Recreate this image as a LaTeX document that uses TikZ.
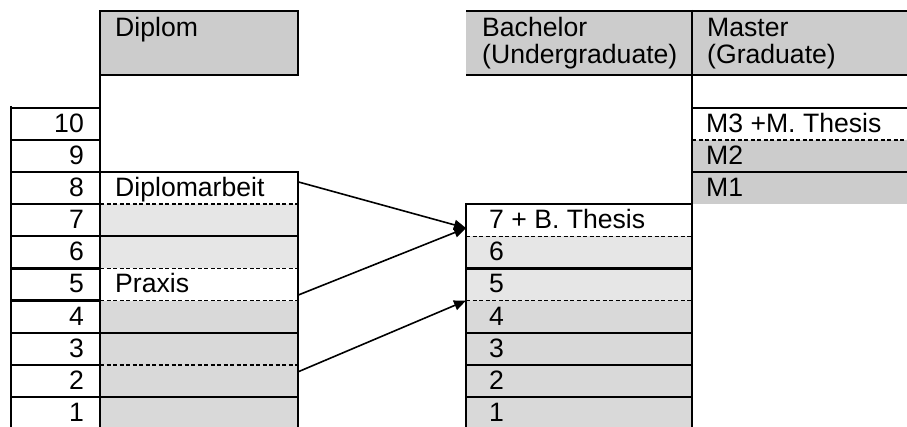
\documentclass[tikz,border=0pt]{standalone}
\usepackage{fontspec}
\setmainfont{Liberation Sans}
\usetikzlibrary{arrows.meta,calc}
\definecolor{hdr}{HTML}{CCCCCC}
\definecolor{lgt}{HTML}{E6E6E6}
\definecolor{drk}{HTML}{D9D9D9}
\begin{document}
\begin{tikzpicture}[x=1pt,y=-1pt,
  solidline/.style={line width=2.2pt},
  dashline/.style={line width=1.6pt, dash pattern=on 4pt off 2.5pt},
  txt/.style={inner sep=0pt, font=\fontsize{26.6}{30}\selectfont},
  num/.style={txt, anchor=base east},
  lbl/.style={txt, anchor=base west},
  cellbox/.style={anchor=north west, inner sep=0pt, outer sep=0pt, minimum height=32.1pt},
  dcell/.style={cellbox, minimum width=198pt},
  bcell/.style={cellbox, minimum width=226pt},
  mcell/.style={cellbox, minimum width=215pt},
  arr/.style={line width=1.6pt, -{Triangle[length=12pt,width=10pt]}}]
\useasboundingbox (0,0) rectangle (907,427);
\begin{scope}
\clip (0,0) rectangle (907,427);
% ---------- fills ----------
\node[cellbox, fill=hdr, minimum width=198pt, minimum height=64pt] (hdip) at (100,11) {};
\node[cellbox, fill=hdr, minimum width=226pt, minimum height=64pt] (hbac) at (466,11) {};
\node[cellbox, fill=hdr, minimum width=215pt, minimum height=64pt] (hmas) at (692,11) {};
% Diplom column
\node[dcell] (d8) at (100,172.2) {};
\node[dcell, fill=lgt] (d7) at (100,204.3) {};
\node[dcell, fill=lgt] (d6) at (100,236.4) {};
\node[dcell] (d5) at (100,268.5) {};
\node[dcell, fill=drk] (d4) at (100,300.6) {};
\node[dcell, fill=drk] (d3) at (100,332.7) {};
\node[dcell, fill=drk] (d2) at (100,364.8) {};
\node[dcell, fill=drk] (d1) at (100,396.9) {};
% Bachelor column
\node[bcell] (b7) at (466,204.3) {};
\node[bcell, fill=lgt] (b6) at (466,236.4) {};
\node[bcell, fill=lgt] (b5) at (466,268.5) {};
\node[bcell, fill=drk] (b4) at (466,300.6) {};
\node[bcell, fill=drk] (b3) at (466,332.7) {};
\node[bcell, fill=drk] (b2) at (466,364.8) {};
\node[bcell, fill=drk] (b1) at (466,396.9) {};
% Master column
\node[mcell] (m3) at (692,108) {};
\node[mcell, fill=hdr] (m2) at (692,140.1) {};
\node[mcell, fill=hdr] (m1) at (692,172.2) {};
% ---------- dashed lines ----------
\foreach \y in {204.3,268.5,300.6,364.8} \draw[dashline] (100,\y) -- (298,\y);
\foreach \y in {236.4,300.6} \draw[dashline] (466,\y) -- (692,\y);
\draw[dashline] (692,140.1) -- (907,140.1);
% ---------- solid lines ----------
% number column
\draw[solidline] (11,106) -- (11,430);
\foreach \y in {108,140.1,172.2,204.3,236.4,268.5,300.6,332.7,364.8,396.9}
  \draw[solidline] (10,\y) -- (100,\y);
% Diplom column
\draw[solidline] (100,11) rectangle (298,75);
\draw[solidline] (100,11) -- (100,430);
\draw[solidline] (298,171.1) -- (298,430);
\foreach \y in {172.2,236.4,332.7,396.9} \draw[solidline] (100,\y) -- (298,\y);
% Bachelor / Master
\draw[solidline] (466,11) -- (908,11);
\draw[solidline] (466,75) -- (908,75);
\draw[solidline] (692,9.9) -- (692,430);
\draw[solidline] (466,203.2) -- (466,430);
\foreach \y in {204.3,268.5,332.7,364.8,396.9} \draw[solidline] (466,\y) -- (692,\y);
\foreach \y in {108,172.2} \draw[solidline] (692,\y) -- (908,\y);
\end{scope}
% ---------- texts ----------
\node[lbl] (thd) at (115,36.5) {Diplom};
\node[lbl] (thb1) at (482,36.5) {Bachelor};
\node[lbl] (thb2) at (482,64) {(Undergraduate)};
\node[lbl] (thm1) at (707,36.5) {Master};
\node[lbl] (thm2) at (707,64) {(Graduate)};
\foreach \n/\y in {10/108,9/140.1,8/172.2,7/204.3,6/236.4,5/268.5,4/300.6,3/332.7,2/364.8,1/396.9}
  \node[num] (n\n) at (84,\y+24.5) {\n};
\node[lbl] (tdip) at (115,172.2+24.5) {Diplomarbeit};
\node[lbl] (tpra) at (115,268.5+24.5) {Praxis};
\node[lbl] (tb7) at (489,204.3+24.5) {7 + B. Thesis};
\foreach \n/\y in {6/236.4,5/268.5,4/300.6,3/332.7,2/364.8,1/396.9}
  \node[lbl] (tb\n) at (489,\y+24.5) {\n};
\node[lbl] (tm3) at (706,108+24.5) {M3 +M. Thesis};
\node[lbl] (tm2) at (706,140.1+24.5) {M2};
\node[lbl] (tm1) at (706,172.2+24.5) {M1};
% ---------- arrows ----------
\coordinate (a1s) at ($(d8.north east)!0.3!(d8.south east)$);
\coordinate (a2s) at ($(d5.north east)!0.83!(d5.south east)$);
\coordinate (a3s) at ($(d2.north east)!0.22!(d2.south east)$);
\coordinate (a1e) at ($(b7.north west)!0.74!(b7.south west)$);
\coordinate (a3e) at (b4.north west);
\draw[arr] (a1s) -- (a1e);
\draw[arr] (a2s) -- (a1e);
\draw[arr] (a3s) -- (a3e);
\end{tikzpicture}
\end{document}
